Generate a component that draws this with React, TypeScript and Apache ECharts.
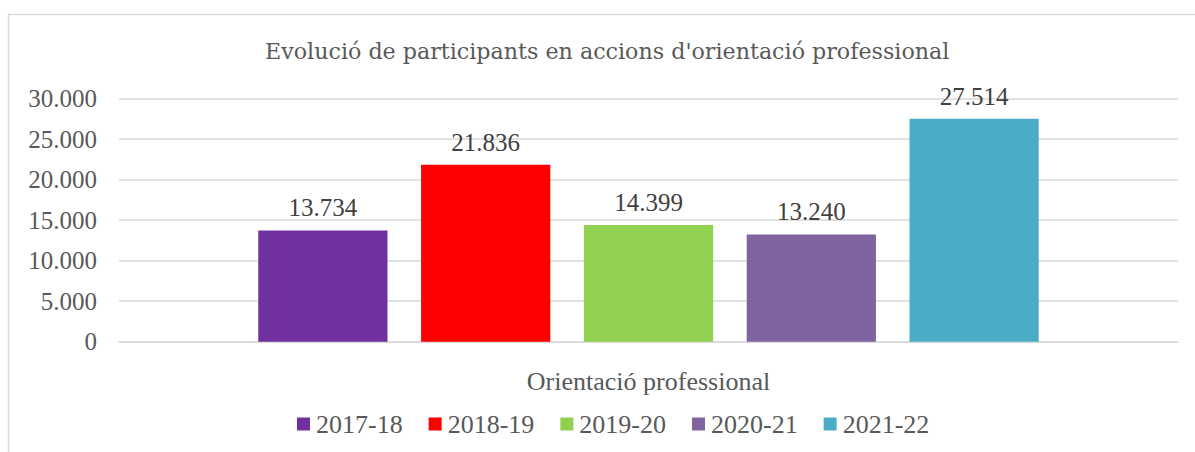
import React, { useEffect, useRef } from "react";
import * as echarts from "echarts";

const categories = ["Orientació professional"];
const seriesNames = ["2017-18", "2018-19", "2019-20", "2020-21", "2021-22"];
const seriesValues = [13734, 21836, 14399, 13240, 27514];
const seriesColors = ["#7030A0", "#FF0000", "#92D050", "#8064A2", "#4BACC6"];
const titleText = "Evolució de participants en accions d'orientació professional";

const fmt = (v: number) => String(Math.round(v)).replace(/\B(?=(\d{3})+(?!\d))/g, ".");

export default function App() {
  const ref = useRef<HTMLDivElement>(null);
  useEffect(() => {
    if (!ref.current) return;
    const chart = echarts.init(ref.current, undefined, { renderer: "svg" });
    const serif = "'Liberation Serif', serif";
    chart.setOption({
      animation: false,
      backgroundColor: "#ffffff",
      graphic: [
        {
          type: "rect",
          shape: { x: 8.5, y: 14.5, width: 1200, height: 460 },
          style: { fill: "none", stroke: "#d9d9d9", lineWidth: 1.5 },
          silent: true,
          z: -10,
        },
      ],
      title: {
        text: titleText,
        left: 265,
        top: 40,
        padding: 0,
        textStyle: { fontFamily: "'DejaVu Serif', serif", fontSize: 22.2, fontWeight: "normal", color: "#595959" },
      },
      legend: {
        data: seriesNames,
        left: 297,
        top: 411,
        padding: 0,
        icon: "rect",
        itemWidth: 13,
        itemHeight: 13,
        itemGap: 26,
        textStyle: { fontFamily: serif, fontSize: 26, color: "#595959", padding: [0, 0, 0, 1] },
      },
      grid: { left: 119, right: 17, top: 98.7, bottom: 110.3, containLabel: false },
      xAxis: {
        type: "category",
        data: categories,
        axisLine: { show: true, lineStyle: { color: "#d9d9d9", width: 1.5 } },
        axisTick: { show: false },
        axisLabel: { fontFamily: serif, fontSize: 26, color: "#595959", margin: 27 },
      },
      yAxis: {
        type: "value",
        min: 0,
        max: 30000,
        interval: 5000,
        axisLine: { show: false },
        axisTick: { show: false },
        splitLine: { lineStyle: { color: "#d9d9d9", width: 1.5 } },
        axisLabel: {
          fontFamily: serif,
          fontSize: 25,
          color: "#595959",
          margin: 22,
          formatter: (v: number) => fmt(v),
        },
      },
      series: seriesNames.map((name, i) => ({
        name,
        type: "bar",
        data: [seriesValues[i]],
        barGap: "26%",
        barCategoryGap: "26.3%",
        itemStyle: { color: seriesColors[i] },
        label: {
          show: true,
          position: "top",
          distance: 10,
          fontFamily: serif,
          fontSize: 25,
          color: "#404040",
          formatter: (p: any) => fmt(p.value),
        },
      })),
    });
    return () => chart.dispose();
  }, []);
  return (
    <div
      ref={ref}
      style={{ position: "fixed", left: 0, top: 0, width: 1195, height: 452 }}
    />
  );
}
